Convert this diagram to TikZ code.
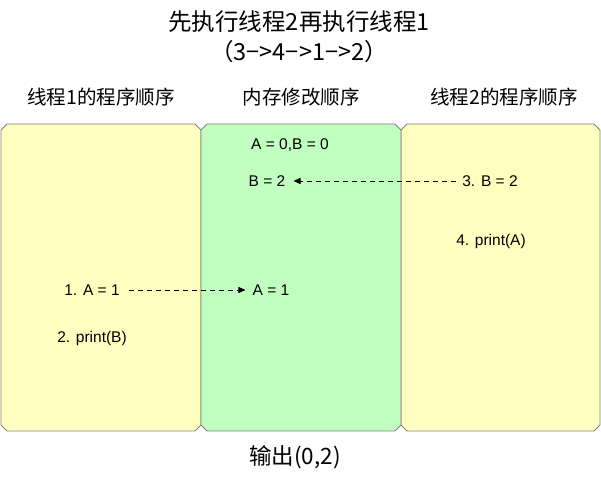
\documentclass[tikz,border=0pt]{standalone}
\usepackage{fontspec}
\setmainfont{Liberation Sans}
\newfontfamily\cjk{Noto Sans CJK SC}
\usetikzlibrary{arrows.meta}
\definecolor{yel}{HTML}{FFFFC0}
\definecolor{grn}{HTML}{C0FFC0}
\definecolor{bord}{HTML}{808080}
\begin{document}
\begin{tikzpicture}[x=1pt,y=-1pt,
  lbl/.style={inner sep=0pt,font=\fontsize{15.5}{18}\selectfont},
  head/.style={inner sep=0pt,font=\cjk\fontsize{19.5}{22}\selectfont},
  ttl/.style={inner sep=0pt,font=\cjk\fontsize{23.5}{28}\selectfont},
  panel/.style={draw=bord,line width=0.8pt},
  link/.style={dashed,dash pattern=on 5pt off 4pt,line width=0.7pt,-{Triangle[length=7pt,width=6pt]}}]
\useasboundingbox (0,0) rectangle (601,478);
\def\ch{6}
% panels
\foreach \xa/\xb/\col in {1/201/yel,401/600/yel,201/401/grn}{
  \filldraw[panel,fill=\col] (\xa+\ch,124) -- (\xb-\ch,124) -- (\xb,124+\ch) -- (\xb,431-\ch) -- (\xb-\ch,431) -- (\xa+\ch,431) -- (\xa,431-\ch) -- (\xa,124+\ch) -- cycle;
}
% titles
\node[ttl] (t1) at (299,22) {先执行线程2再执行线程1};
\node[ttl] (t2) at (299,52) {（3−>4−>1−>2）};
\node[head] (h1) at (101,97) {线程1的程序顺序};
\node[head] (h2) at (301,97) {内存修改顺序};
\node[head] (h3) at (504,97) {线程2的程序顺序};
% memory
\node[lbl] (init) at (290,145) {A = 0,B = 0};
\node[lbl] (mb) at (267,181) {B = 2};
\node[lbl] (ma) at (271,290) {A = 1};
% thread 2
\node[lbl] (s3) at (490,181) {3. B = 2};
\node[lbl] (s4) at (491,241) {4. print(A)};
% thread 1
\node[lbl] (s1) at (92,290) {1. A = 1};
\node[lbl] (s2) at (92,338) {2. print(B)};
% arrows
\draw[link] ([xshift=-6pt]s3.west) -- ([xshift=8pt]mb.east);
\draw[link] ([xshift=9pt]s1.east) -- ([xshift=-7pt]ma.west);
% output
\node[inner sep=0pt,font=\cjk\fontsize{22.5}{26}\selectfont] (out) at (295,457) {输出(0,2)};
\end{tikzpicture}
\end{document}
